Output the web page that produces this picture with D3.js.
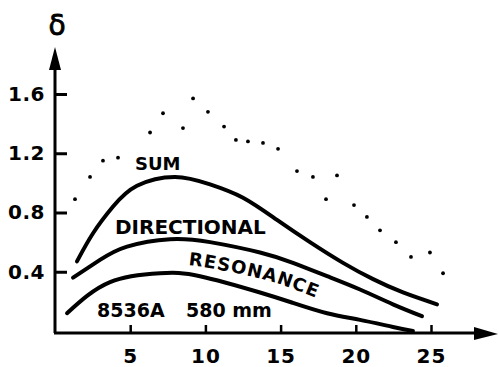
<!DOCTYPE html>
<html>
<head>
<meta charset="utf-8">
<script src="https://cdn.jsdelivr.net/npm/d3@7"></script>
<style>
  html, body { margin: 0; padding: 0; background: #fff; }
  svg { display: block; }
  text { font-family: "DejaVu Sans", Verdana, sans-serif; font-weight: bold; fill: #000; }
  text.title { font-weight: normal; }
</style>
</head>
<body>
<svg id="chart" width="499" height="367"></svg>
<script>
// ---- data ----
const xTickValues = [5, 10, 15, 20, 25];
const yTickValues = [0.4, 0.8, 1.2, 1.6];

// top solid curve (under "SUM" label)
const sumX = [1.46, 2.53, 3.86, 5.45, 7.98, 10.31, 12.5, 14.76, 16.95, 19.15, 21.15, 23.14, 25.4];
const sumY = [0.47, 0.66, 0.84, 0.98, 1.04, 0.99, 0.90, 0.75, 0.60, 0.46, 0.35, 0.26, 0.18];

// middle solid curve (under "DIRECTIONAL" label)
const directionalX = [1.2, 2.99, 4.79, 7.65, 10.31, 13.63, 15.82, 18.09, 20.28, 22.47, 24.4];
const directionalY = [0.36, 0.48, 0.57, 0.62, 0.60, 0.53, 0.46, 0.37, 0.28, 0.18, 0.10];

// bottom solid curve (under "RESONANCE" label)
const resonanceX = [0.8, 3.66, 6.98, 9.64, 13.63, 15.82, 18.09, 20.28, 22.47, 23.8];
const resonanceY = [0.12, 0.33, 0.39, 0.37, 0.26, 0.19, 0.12, 0.075, 0.027, 0.0];

// dotted points
const dotX = [1.33, 2.33, 3.19, 4.19, 6.32, 7.18, 8.51, 9.18, 10.17, 11.24, 12.03, 12.83, 13.83, 14.83,
              16.09, 17.15, 18.75, 18.02, 19.88, 20.74, 21.61, 22.67, 23.67, 24.93, 25.8];
const dotY = [0.89, 1.04, 1.15, 1.17, 1.34, 1.47, 1.37, 1.57, 1.48, 1.38, 1.29, 1.28, 1.27, 1.23,
              1.08, 1.04, 1.05, 0.89, 0.85, 0.77, 0.68, 0.60, 0.50, 0.53, 0.39];

const labels = { sum: "SUM", directional: "DIRECTIONAL", resonance: "RESONANCE", id: "8536A", size: "580 mm", axis: "δ" };

// ---- chart ----
const svg = d3.select("#chart");
const x = d3.scaleLinear().domain([0, 25]).range([55, 431]);
const y = d3.scaleLinear().domain([0, 1.6]).range([331, 94]);

const zip = (xs, ys) => xs.map((v, i) => [v, ys[i]]);
const line = d3.line().x(d => x(d[0])).y(d => y(d[1])).curve(d3.curveNatural);

const x0 = x(0), y0 = y(0);

// axes lines
svg.append("line").attr("x1", x0).attr("x2", x0).attr("y1", y0 + 2).attr("y2", 66)
  .attr("stroke", "#000").attr("stroke-width", 3);
svg.append("path").attr("d", `M${x0},47 L${x0 - 6},70 L${x0 + 6},70 Z`).attr("fill", "#000");

svg.append("line").attr("x1", x0 - 1).attr("x2", 478).attr("y1", y0 + 2).attr("y2", y0 + 2)
  .attr("stroke", "#000").attr("stroke-width", 3);
svg.append("path").attr("d", `M498,${y0 + 3} L474,${y0 - 4} L474,${y0 + 9} Z`).attr("fill", "#000");

// y axis ticks
const yAxis = d3.axisLeft(y).tickValues(yTickValues).tickSize(-12).tickPadding(10)
  .tickFormat(d3.format(".1f"));
const gy = svg.append("g").attr("transform", `translate(${x0},0)`).call(yAxis);
gy.select(".domain").remove();
gy.selectAll(".tick line").attr("stroke", "#000").attr("stroke-width", 3);
gy.selectAll(".tick text").attr("font-size", 20).attr("font-family", "DejaVu Sans")
  .attr("font-weight", "bold").attr("fill", "#000").attr("letter-spacing", 0.5);

// x axis ticks
const xAxis = d3.axisBottom(x).tickValues(xTickValues).tickSize(-8).tickPadding(16)
  .tickFormat(d3.format("d"));
const gx = svg.append("g").attr("transform", `translate(0,${y0 + 2})`).call(xAxis);
gx.select(".domain").remove();
gx.selectAll(".tick line").attr("stroke", "#000").attr("stroke-width", 2.5);
gx.selectAll(".tick text").attr("font-size", 20).attr("font-family", "DejaVu Sans")
  .attr("font-weight", "bold").attr("fill", "#000").attr("letter-spacing", 1);

// axis title
svg.append("text").attr("class", "title").attr("x", x0 + 2).attr("y", 35).attr("text-anchor", "middle")
  .attr("font-size", 28).attr("stroke", "#000").attr("stroke-width", 0.8)
  .text(labels.axis);

// curves
const curveStyle = sel => sel.attr("fill", "none").attr("stroke", "#000").attr("stroke-width", 4)
  .attr("stroke-linecap", "round").attr("stroke-linejoin", "round");
svg.append("path").datum(zip(sumX, sumY)).attr("d", line).call(curveStyle);
const dirPath = svg.append("path").attr("id", "dirPath").datum(zip(directionalX, directionalY))
  .attr("d", line).call(curveStyle);
svg.append("path").datum(zip(resonanceX, resonanceY)).attr("d", line).call(curveStyle);

// dots
svg.append("g").selectAll("circle").data(zip(dotX, dotY)).join("circle")
  .attr("cx", d => x(d[0])).attr("cy", d => y(d[1])).attr("r", 1.9).attr("fill", "#000");

// labels
svg.append("text").attr("x", 135).attr("y", 170).attr("font-size", 18).text(labels.sum);
svg.append("text").attr("x", 115).attr("y", 234).attr("font-size", 20).text(labels.directional);
svg.append("text").attr("x", 97).attr("y", 317).attr("font-size", 19).text(labels.id);
svg.append("text").attr("x", 186).attr("y", 317).attr("font-size", 19).text(labels.size);

// RESONANCE follows the middle curve, offset below
const node = dirPath.node();
const total = node.getTotalLength();
let startLen = 0;
for (let l = 0; l < total; l += 0.5) {
  if (node.getPointAtLength(l).x >= 188) { startLen = l; break; }
}
svg.append("g").attr("transform", "translate(0,26)")
  .append("text").attr("font-size", 18).attr("letter-spacing", 1)
  .append("textPath").attr("href", "#dirPath").attr("startOffset", startLen)
  .text(labels.resonance);
</script>
</body>
</html>
